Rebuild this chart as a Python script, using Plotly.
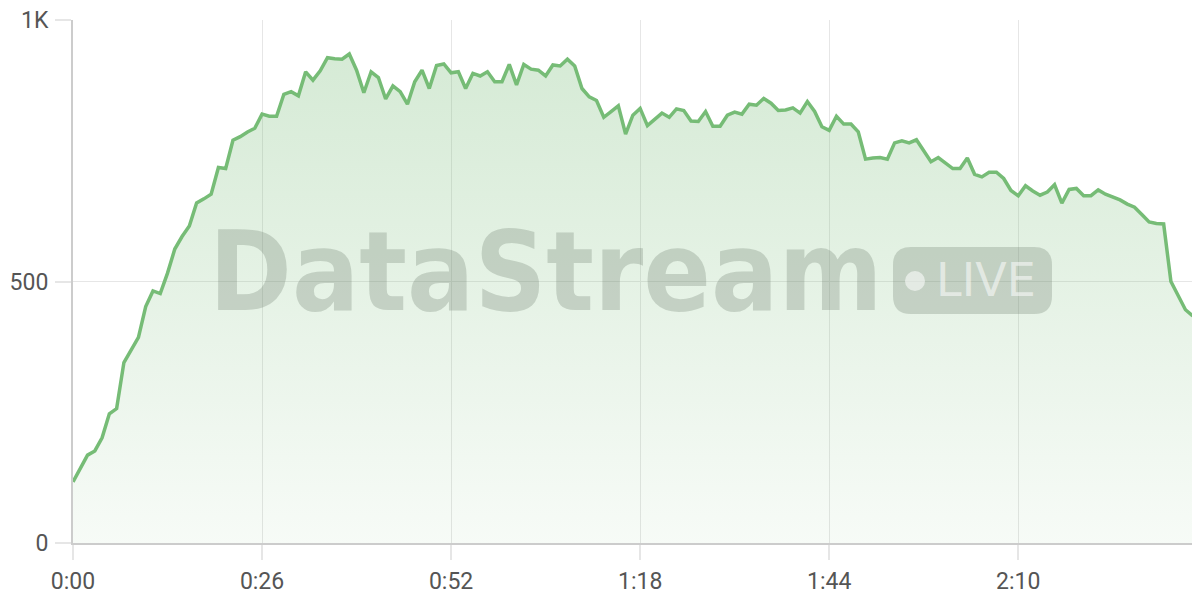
import plotly.graph_objects as go

# elapsed seconds for each sample
seconds = list(range(155))

# viewers
viewers = [
    117, 142, 168, 176, 201, 247, 257, 345, 369, 393,
    452, 482, 477, 516, 562, 586, 606, 650, 658, 667,
    718, 716, 770, 777, 786, 793, 820, 816, 816, 858,
    863, 855, 901, 885, 903, 928, 926, 925, 935, 904,
    861, 901, 890, 849, 874, 863, 839, 882, 904, 869,
    913, 916, 899, 901, 869, 898, 893, 901, 882, 882,
    915, 876, 915, 906, 904, 893, 914, 912, 925, 912,
    869, 853, 846, 814, 825, 836, 782, 818, 831, 798,
    810, 822, 814, 830, 827, 807, 806, 825, 797, 797,
    818, 824, 820, 839, 837, 850, 841, 827, 828, 832,
    822, 844, 825, 796, 789, 816, 801, 801, 786, 734,
    736, 737, 734, 765, 769, 765, 771, 751, 729, 737,
    727, 716, 716, 736, 705, 700, 709, 709, 697, 674,
    664, 683, 673, 665, 671, 685, 650, 676, 678, 664,
    664, 675, 667, 662, 656, 648, 642, 628, 614, 611,
    610, 500, 474, 446, 434,
]

x_tick_vals = [0, 26, 52, 78, 104, 130]
x_tick_text = ["0:00", "0:26", "0:52", "1:18", "1:44", "2:10"]
y_tick_vals = [0, 500, 1000]
y_tick_text = ["0", "500", "1K"]

LINE = "rgb(118,188,118)"
GRID = "#e6e6e6"
AXIS = "#cccccc"
LABEL = "#555555"
WM = "rgba(105,118,105,0.27)"
TICKFONT = "Roboto, Liberation Sans, sans-serif"

fig = go.Figure()
fig.add_trace(go.Scatter(
    x=seconds, y=viewers, mode="lines",
    line=dict(color=LINE, width=3.5),
    fill="tozeroy",
    fillgradient=dict(
        type="vertical", start=0, stop=1000,
        colorscale=[[0, "rgba(118,187,118,0.06)"], [1, "rgba(118,187,118,0.32)"]],
    ),
    hoverinfo="skip",
    showlegend=False,
))

# plot area in page pixels: x 73..1200, y 20..543 (page body has an 8px margin)
PX0, PX1, PY0, PY1 = 73, 1200, 20, 543
def px(x):
    return (x - PX0) / (PX1 - PX0)
def py(y):
    return (PY1 - y) / (PY1 - PY0)

# watermark
fig.add_annotation(
    xref="paper", yref="paper", x=px(207), y=py(271),
    xanchor="left", yanchor="middle", showarrow=False,
    text="<b>DataStream</b>",
    font=dict(family="DejaVu Sans Condensed, DejaVu Sans", size=111, color=WM),
)

bx0, bx1 = px(893), px(1052)
by0, by1 = py(314), py(247)
rx, ry = 18 / (PX1 - PX0), 18 / (PY1 - PY0)
path = (
    f"M {bx0+rx} {by0} L {bx1-rx} {by0} Q {bx1} {by0} {bx1} {by0+ry} "
    f"L {bx1} {by1-ry} Q {bx1} {by1} {bx1-rx} {by1} "
    f"L {bx0+rx} {by1} Q {bx0} {by1} {bx0} {by1-ry} "
    f"L {bx0} {by0+ry} Q {bx0} {by0} {bx0+rx} {by0} Z"
)
fig.add_shape(type="path", xref="paper", yref="paper", path=path,
              fillcolor=WM, line=dict(width=0), layer="above")
cx, cy = px(915), py(281)
dr_x, dr_y = 10 / (PX1 - PX0), 10 / (PY1 - PY0)
fig.add_shape(type="circle", xref="paper", yref="paper",
              x0=cx - dr_x, x1=cx + dr_x, y0=cy - dr_y, y1=cy + dr_y,
              fillcolor="rgba(255,255,255,0.55)", line=dict(width=0), layer="above")
fig.add_annotation(
    xref="paper", yref="paper", x=px(986), y=py(280),
    xanchor="center", yanchor="middle", showarrow=False,
    text="LIVE",
    font=dict(family="DejaVu Sans", size=46, color="rgba(255,255,255,0.55)"),
)

fig.update_layout(
    width=1200, height=600,
    margin=dict(l=PX0 - 8, r=8, t=PY0 - 8, b=600 - PY1 + 8),
    paper_bgcolor="white", plot_bgcolor="white",
    font=dict(family=TICKFONT, size=23, color=LABEL),
)
fig.update_xaxes(
    range=[0, 155], tickvals=x_tick_vals, ticktext=x_tick_text,
    showgrid=True, gridcolor=GRID, gridwidth=1,
    showline=True, linecolor=AXIS, linewidth=1.5,
    ticks="outside", ticklen=15, tickcolor=GRID, tickwidth=1.5,
    zeroline=False, tickfont=dict(family=TICKFONT, size=23, color=LABEL),
    ticklabelstandoff=2, automargin=False, ticklabeloverflow="allow",
)
fig.update_yaxes(
    range=[0, 1000], tickvals=y_tick_vals, ticktext=y_tick_text,
    showgrid=True, gridcolor=GRID, gridwidth=1,
    showline=True, linecolor=AXIS, linewidth=2,
    ticks="outside", ticklen=16, tickcolor=GRID, tickwidth=1.5,
    zeroline=False, tickfont=dict(family=TICKFONT, size=23, color=LABEL),
    ticklabelstandoff=2, automargin=False, ticklabeloverflow="allow",
)

fig.write_html("out.html")
